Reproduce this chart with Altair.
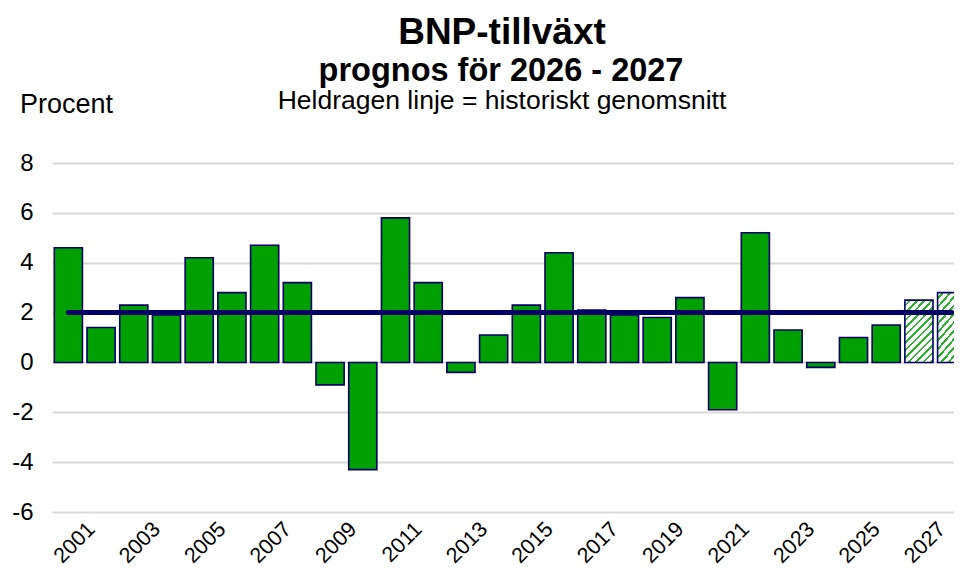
import altair as alt
import pandas as pd

# ---- data -------------------------------------------------------------
years = ["2000", "2001", "2002", "2003", "2004", "2005", "2006", "2007",
         "2008", "2009", "2010", "2011", "2012", "2013", "2014", "2015",
         "2016", "2017", "2018", "2019", "2020", "2021", "2022", "2023",
         "2024", "2025", "2026", "2027"]
growth = [4.6, 1.4, 2.3, 1.9, 4.2, 2.8, 4.7, 3.2,
          -0.9, -4.3, 5.8, 3.2, -0.4, 1.1, 2.3, 4.4,
          2.1, 1.9, 1.8, 2.6, -1.9, 5.2, 1.3, -0.2,
          1.0, 1.5, 2.5, 2.8]
forecast_years = ["2026", "2027"]
hist_avg = 2.0
avg_from, avg_to = "2000", "2027"
label_years = ["2001", "2003", "2005", "2007", "2009", "2011", "2013",
               "2015", "2017", "2019", "2021", "2023", "2025", "2027"]
y_ticks = [-6, -4, -2, 0, 2, 4, 6, 8]

title_text = "BNP-tillväxt"
subtitle_text = "prognos för 2026 - 2027"
note_text = "Heldragen linje = historiskt genomsnitt"
unit_text = "Procent"

# ---- style ------------------------------------------------------------
FONT = "Liberation Sans"
GREEN = "#00a000"
NAVY = "#000066"
STRIPE = "#2cb52c"

df = pd.DataFrame({"year": years, "growth": growth})
df["kind"] = ["prognos" if y in forecast_years else "utfall" for y in years]

avg_df = pd.DataFrame({"year": [avg_from], "year_end": [avg_to], "avg": [hist_avg]})

# band range runs a little past the right edge, as in the original
x_scale = alt.Scale(domain=years, range=[0, 916], paddingInner=0.14, paddingOuter=0.07)

x_enc = alt.X(
    "year:O",
    scale=x_scale,
    axis=alt.Axis(values=label_years, labelAngle=-45, labelFontSize=21.5,
                  labelFont=FONT, labelColor="black", labelPadding=6,
                  labelOffset=-17, ticks=False, domain=False, grid=False,
                  title=None),
)
y_enc = alt.Y(
    "growth:Q",
    scale=alt.Scale(domain=[-6, 8], nice=False),
    axis=alt.Axis(values=y_ticks, labelFontSize=24, labelFont=FONT,
                  labelColor="black", labelPadding=19, ticks=False,
                  labelExpr="'' + datum.value",
                  domain=False, gridColor="#d9d9d9", gridWidth=2, title=None),
)

# diagonal hatch for forecast bars
N = 12
stops = []
for i in range(N):
    a = i / N
    stops += [
        alt.GradientStop(offset=a, color="white"),
        alt.GradientStop(offset=a + 0.55 / N, color="white"),
        alt.GradientStop(offset=a + 0.55 / N, color=STRIPE),
        alt.GradientStop(offset=a + 0.9 / N, color=STRIPE),
        alt.GradientStop(offset=a + 0.9 / N, color="white"),
    ]
hatch = alt.LinearGradient(gradient="linear", stops=stops, x1=0, y1=0, x2=0.55, y2=1.2)

base = alt.Chart(df)

hist_bars = base.transform_filter(alt.datum.kind == "utfall").mark_bar(
    fill=GREEN, stroke=NAVY, strokeWidth=1.6
).encode(x=x_enc, y=y_enc)

fc_bars = base.transform_filter(alt.datum.kind == "prognos").mark_bar(
    fill=hatch, stroke=NAVY, strokeWidth=1.6
).encode(x=x_enc, y=y_enc)

avg_line = alt.Chart(avg_df).mark_rule(
    color=NAVY, strokeWidth=5, strokeCap="round"
).encode(
    x=alt.X("year:O", scale=x_scale),
    x2="year_end:O",
    y=alt.Y("avg:Q"),
)


def text_layer(txt, size, weight, xpos, ypos, align):
    return alt.Chart(pd.DataFrame({"t": [txt]})).mark_text(
        font=FONT, fontSize=size, fontWeight=weight, align=align,
        baseline="alphabetic", color="black"
    ).encode(text="t:N", x=alt.value(xpos), y=alt.value(ypos))


t1 = text_layer(title_text, 37, "bold", 450, -119, "center")
t2 = text_layer(subtitle_text, 32.5, "bold", 449, -82, "center")
t3 = text_layer(note_text, 26.5, "normal", 450, -54, "center")
t4 = text_layer(unit_text, 27, "normal", -32, -50, "left")

chart = alt.layer(hist_bars, fc_bars, avg_line, t1, t2, t3, t4).properties(
    width=902,
    height=349,
    autosize="none",
    padding={"left": 44, "top": 155, "right": 0, "bottom": 59},
    background="white",
).configure_view(stroke=None)

chart.save("out.html", embed_options={"renderer": "svg", "actions": False})
